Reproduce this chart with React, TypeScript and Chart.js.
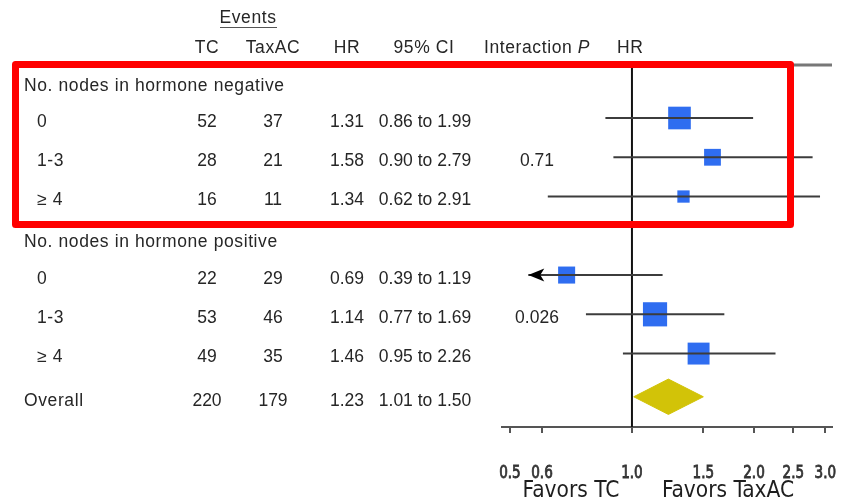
import React, { useEffect, useRef } from "react";
import { Chart, registerables } from "chart.js";

Chart.register(...registerables);

// ---------- data ----------
const groupLabels = ["No. nodes in hormone negative", "No. nodes in hormone positive"];
const rowLabels = ["0", "1-3", "\u2265 4", "0", "1-3", "\u2265 4", "Overall"];
const eventsTC = [52, 28, 16, 22, 53, 49, 220];
const eventsTaxAC = [37, 21, 11, 29, 46, 35, 179];
const hazardRatio = [1.31, 1.58, 1.34, 0.69, 1.14, 1.46, 1.23];
const ciLow = [0.86, 0.9, 0.62, 0.39, 0.77, 0.95, 1.01];
const ciHigh = [1.99, 2.79, 2.91, 1.19, 1.69, 2.26, 1.5];
const interactionP = ["", "0.71", "", "", "0.026", "", ""];
const xTickValues = [0.5, 0.6, 1.0, 1.5, 2.0, 2.5, 3.0];
const xTickLabels = ["0.5", "0.6", "1.0", "1.5", "2.0", "2.5", "3.0"];

// ---------- layout ----------
const ROW_Y = [1, 2, 3, 5, 6, 7, 8.1];
const GROUP_Y = [0.1, 4.05];
const OVERALL = 6;
const X_MIN = 0.478;
const X_MAX = 3.115;
const ARROW_CLIP = 0.555;
const DIAMOND_HALF = 0.45;
const FONT = "'Liberation Sans', Arial, Helvetica, sans-serif";
const NARROW = "'Liberation Sans Narrow', 'Arial Narrow', 'DejaVu Sans Condensed', sans-serif";
const TEXT = "#262626";
const BLUE = "#2f6df0";
const GOLD = "#d2c308";

const lineDatasets = hazardRatio
  .map((_, i) => i)
  .filter((i) => i !== OVERALL)
  .map((i) => ({
    type: "scatter" as const,
    data: [
      { x: Math.max(ciLow[i], ARROW_CLIP), y: ROW_Y[i] },
      { x: ciHigh[i], y: ROW_Y[i] },
    ],
    showLine: true,
    borderColor: "#3c3c3c",
    borderWidth: 2,
    pointRadius: 0,
    fill: false,
  }));

const squareIdx = hazardRatio.map((_, i) => i).filter((i) => i !== OVERALL);
const squareDataset = {
  type: "scatter" as const,
  data: squareIdx.map((i) => ({ x: hazardRatio[i], y: ROW_Y[i] })),
  pointStyle: "rect" as const,
  // square side proportional to precision (1 / log CI width)
  pointRadius: squareIdx.map((i) => 19 / Math.log(ciHigh[i] / ciLow[i]) / Math.SQRT2),
  pointBackgroundColor: BLUE,
  pointBorderWidth: 0,
  showLine: false,
};

const diamondDataset = {
  type: "scatter" as const,
  data: [
    { x: ciLow[OVERALL], y: ROW_Y[OVERALL] },
    { x: hazardRatio[OVERALL], y: ROW_Y[OVERALL] - DIAMOND_HALF },
    { x: ciHigh[OVERALL], y: ROW_Y[OVERALL] },
    { x: hazardRatio[OVERALL], y: ROW_Y[OVERALL] + DIAMOND_HALF },
    { x: ciLow[OVERALL], y: ROW_Y[OVERALL] },
  ],
  showLine: true,
  fill: "shape",
  backgroundColor: GOLD,
  borderColor: GOLD,
  borderWidth: 1,
  pointRadius: 0,
  tension: 0,
};

const forestPlugin = {
  id: "forest",
  beforeDatasetsDraw(chart: any) {
    const { ctx, chartArea, scales } = chart;
    const x1 = scales.x.getPixelForValue(1);
    ctx.save();
    ctx.strokeStyle = "#777";
    ctx.lineWidth = 3;
    ctx.beginPath();
    ctx.moveTo(chartArea.left, chartArea.top);
    ctx.lineTo(chartArea.right, chartArea.top);
    ctx.stroke();
    ctx.strokeStyle = "#111";
    ctx.lineWidth = 2;
    ctx.beginPath();
    ctx.moveTo(x1, chartArea.top);
    ctx.lineTo(x1, chartArea.bottom);
    ctx.stroke();
    ctx.restore();
  },
  afterDatasetsDraw(chart: any) {
    const { ctx, scales } = chart;
    ctx.save();
    ctx.fillStyle = "#000";
    hazardRatio.forEach((_, i) => {
      if (i === OVERALL || ciLow[i] >= ARROW_CLIP) return;
      const tx = scales.x.getPixelForValue(ARROW_CLIP);
      const y = scales.y.getPixelForValue(ROW_Y[i]);
      ctx.beginPath();
      ctx.moveTo(tx, y);
      ctx.lineTo(tx + 16, y - 6.5);
      ctx.lineTo(tx + 12, y);
      ctx.lineTo(tx + 16, y + 6.5);
      ctx.closePath();
      ctx.fill();
    });
    ctx.restore();
  },
  afterDraw(chart: any) {
    const { ctx, scales, chartArea } = chart;
    const ys = scales.y;
    const xs = scales.x;
    ctx.save();
    ctx.fillStyle = TEXT;
    ctx.textBaseline = "middle";
    const f = `17.5px ${FONT}`;
    ctx.font = f;
    const setSpacing = (v: string) => {
      if ("letterSpacing" in ctx) (ctx as any).letterSpacing = v;
    };

    // header
    const hy = 48;
    ctx.textAlign = "center";
    setSpacing("0.6px");
    ctx.fillText("Events", 248, 18);
    ctx.strokeStyle = "#555";
    ctx.lineWidth = 1;
    ctx.beginPath();
    ctx.moveTo(220, 27.5);
    ctx.lineTo(277, 27.5);
    ctx.stroke();
    ctx.fillText("TC", 207, hy);
    ctx.fillText("TaxAC", 273, hy);
    ctx.fillText("HR", 347, hy);
    ctx.fillText("95% CI", 424, hy);
    ctx.textAlign = "left";
    const inter = "Interaction ";
    const iw = ctx.measureText(inter).width;
    ctx.font = `italic 17.5px ${FONT}`;
    const pw = ctx.measureText("P").width;
    const startX = 537 - (iw + pw) / 2;
    ctx.font = f;
    ctx.fillText(inter, startX, hy);
    ctx.font = `italic 17.5px ${FONT}`;
    ctx.fillText("P", startX + iw, hy);
    ctx.font = f;
    ctx.fillText("HR", 617, hy);

    // group headers
    groupLabels.forEach((g, k) => {
      ctx.textAlign = "left";
      ctx.fillText(g, 24, ys.getPixelForValue(GROUP_Y[k]) + 4);
    });

    // rows
    rowLabels.forEach((lab, i) => {
      const y = ys.getPixelForValue(ROW_Y[i]) + 4;
      setSpacing("0.6px");
      ctx.textAlign = "left";
      ctx.fillText(lab, i === OVERALL ? 24 : 37, y);
      setSpacing("0px");
      ctx.textAlign = "center";
      ctx.fillText(String(eventsTC[i]), 207, y);
      ctx.fillText(String(eventsTaxAC[i]), 273, y);
      ctx.fillText(hazardRatio[i].toFixed(2), 347, y);
      ctx.fillText(`${ciLow[i].toFixed(2)} to ${ciHigh[i].toFixed(2)}`, 425, y);
      if (interactionP[i]) ctx.fillText(interactionP[i], 537, y);
    });

    // x tick labels (positioned by the x scale), condensed horizontally
    setSpacing("0px");
    ctx.font = `17.5px ${NARROW}`;
    ctx.fillStyle = "#333";
    ctx.strokeStyle = "#333";
    ctx.lineWidth = 0.8;
    ctx.textAlign = "center";
    xTickValues.forEach((v, k) => {
      const px = xs.getPixelForValue(v);
      ctx.save();
      ctx.translate(px, chartArea.bottom + 46);
      ctx.scale(0.86, 1);
      ctx.fillText(xTickLabels[k], 0, 0);
      ctx.strokeText(xTickLabels[k], 0, 0);
      ctx.restore();
    });

    // axis captions
    ctx.font = `22.5px ${NARROW}`;
    ctx.textBaseline = "alphabetic";
    ctx.textAlign = "center";
    ctx.fillStyle = "#1e1e1e";
    ctx.fillText("Favors TC", 571, 497);
    ctx.fillText("Favors TaxAC", 728, 497);

    // red highlight box
    ctx.strokeStyle = "#ff0000";
    ctx.lineWidth = 7;
    ctx.lineJoin = "round";
    ctx.strokeRect(15.5, 64.5, 775, 160);
    ctx.restore();
  },
};

export default function App() {
  const ref = useRef<HTMLCanvasElement | null>(null);
  useEffect(() => {
    document.body.style.margin = "0";
    if (!ref.current) return;
    const chart = new Chart(ref.current, {
      type: "scatter",
      data: { datasets: [...lineDatasets, squareDataset, diamondDataset] as any },
      options: {
        animation: false,
        responsive: false,
        layout: { autoPadding: false, padding: { left: 502, right: 9, top: 65, bottom: 0 } },
        plugins: { legend: { display: false }, tooltip: { enabled: false } },
        scales: {
          x: {
            type: "logarithmic",
            min: X_MIN,
            max: X_MAX,
            position: "bottom",
            afterBuildTicks: (s: any) => {
              s.ticks = xTickValues.map((v) => ({ value: v }));
            },
            afterFit: (s: any) => {
              s.height = 75;
              s.paddingLeft = 0;
              s.paddingRight = 0;
            },
            grid: {
              display: true,
              drawOnChartArea: false,
              drawTicks: true,
              tickLength: 6,
              color: "#555",
              lineWidth: 2,
            },
            border: { display: true, color: "#555", width: 2 },
            ticks: { display: false },
          },
          y: {
            type: "linear",
            display: false,
            reverse: true,
            min: -0.35,
            max: 8.87,
          },
        },
      },
      plugins: [forestPlugin],
    });
    return () => chart.destroy();
  }, []);
  return (
    <div style={{ position: "absolute", left: 0, top: 0, width: 841, height: 502, background: "#fff" }}>
      <canvas ref={ref} width={841} height={502} />
    </div>
  );
}
